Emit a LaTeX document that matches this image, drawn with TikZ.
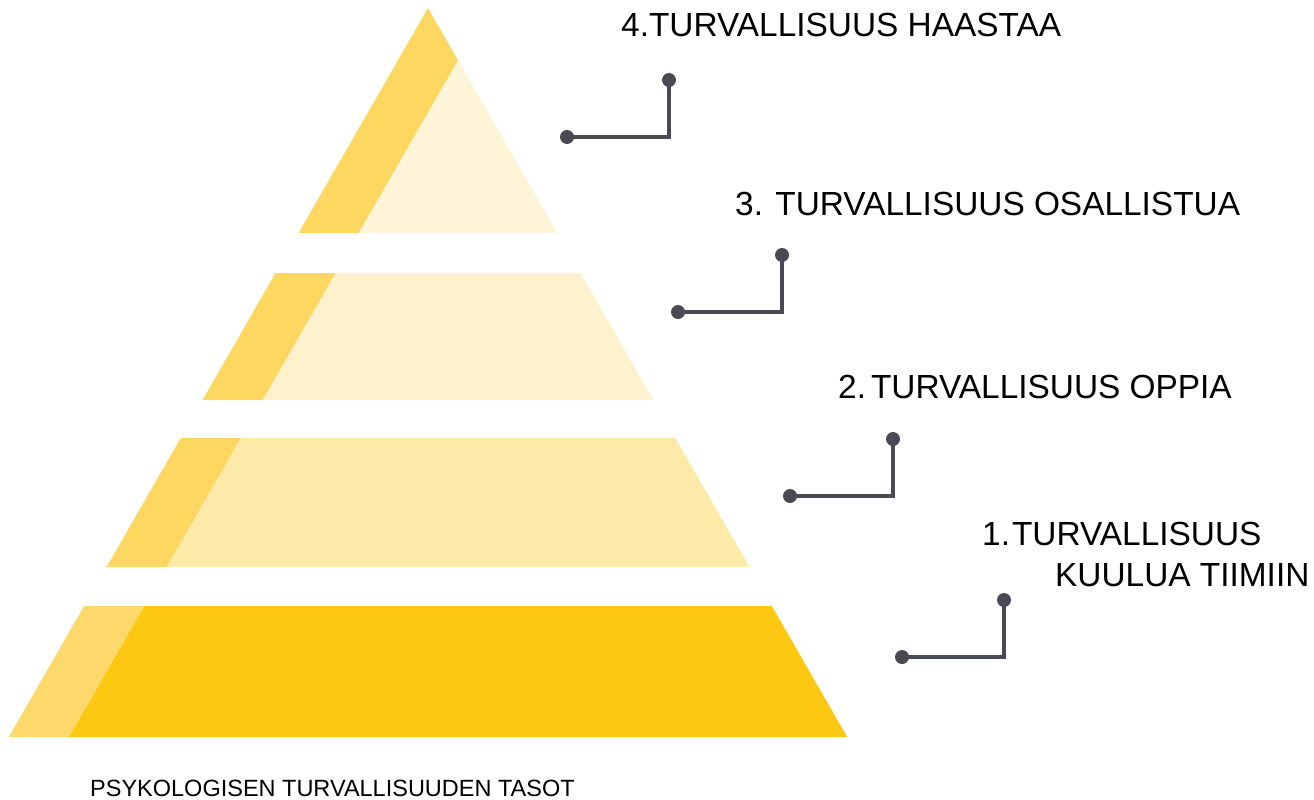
\documentclass[tikz,border=0pt]{standalone}
\usepackage{fontspec}
\setmainfont{Liberation Sans}
\definecolor{stripe}{HTML}{FDD760}
\definecolor{stripeb}{HTML}{FDD86A}
\definecolor{lightA}{HTML}{FEF5D8}
\definecolor{lightB}{HTML}{FEF2CE}
\definecolor{lightC}{HTML}{FDE9A8}
\definecolor{mainD}{HTML}{FCC812}
\definecolor{conn}{HTML}{4A4A54}
\tikzset{
  lbl/.style={inner sep=0pt, anchor=base west, font=\fontsize{33.4}{38}\selectfont, text=black},
  captext/.style={inner sep=0pt, anchor=base west, font=\fontsize{23.5}{28}\selectfont, text=black},
  dotc/.style={circle, fill=conn, inner sep=0pt, minimum size=14pt},
  link/.style={draw=conn, line width=3.5pt},
}
\begin{document}
\begin{tikzpicture}[x=1pt,y=-1pt]
\useasboundingbox (0,0) rectangle (1314,800);
% level 4 (top triangle)
\fill[lightA] (458,60.2) -- (358.6,233) -- (557.4,233) -- cycle;
\fill[stripe] (428,8) -- (298.6,233) -- (358.6,233) -- (458,60.2) -- cycle;
% level 3
\fill[lightB] (335.6,273) -- (262.6,400) -- (653.4,400) -- (580.4,273) -- cycle;
\fill[stripe] (275.6,273) -- (202.6,400) -- (262.6,400) -- (335.6,273) -- cycle;
% level 2
\fill[lightC] (240.75,438) -- (166.6,567) -- (749.4,567) -- (675.25,438) -- cycle;
\fill[stripe] (180.75,438) -- (106.6,567) -- (166.6,567) -- (240.75,438) -- cycle;
% level 1
\fill[mainD] (144.15,606) -- (68.8,737) -- (847.2,737) -- (771.85,606) -- cycle;
\fill[stripeb] (84.15,606) -- (8.8,737) -- (68.8,737) -- (144.15,606) -- cycle;

% connectors
\node[dotc] (a4) at (567,137) {};
\coordinate (c4) at (669,137);
\node[dotc] (b4) at (669,80) {};
\draw[link] (a4.center) -- (c4) -- (b4.center);

\node[dotc] (a3) at (678,312) {};
\coordinate (c3) at (782,312);
\node[dotc] (b3) at (782,255) {};
\draw[link] (a3.center) -- (c3) -- (b3.center);

\node[dotc] (a2) at (790,496) {};
\coordinate (c2) at (893,496);
\node[dotc] (b2) at (893,439) {};
\draw[link] (a2.center) -- (c2) -- (b2.center);

\node[dotc] (a1) at (902,657) {};
\coordinate (c1) at (1004,657);
\node[dotc] (b1) at (1004,600) {};
\draw[link] (a1.center) -- (c1) -- (b1.center);

% labels
\node[lbl] (t4) at (621,37) {4.TURVALLISUUS HAASTAA};
\node[lbl] (t3) at (735,215) {3. TURVALLISUUS OSALLISTUA};
\node[lbl] (t2) at (838,398) {2.\hspace{5pt}TURVALLISUUS OPPIA};
\node[lbl] (t1a) at (982,545) {1.\hspace{2pt}TURVALLISUUS};
\node[lbl] (t1b) at (1055,586) {KUULUA TIIMIIN};
\node[captext] (title) at (90,796) {PSYKOLOGISEN TURVALLISUUDEN TASOT};
\end{tikzpicture}
\end{document}
